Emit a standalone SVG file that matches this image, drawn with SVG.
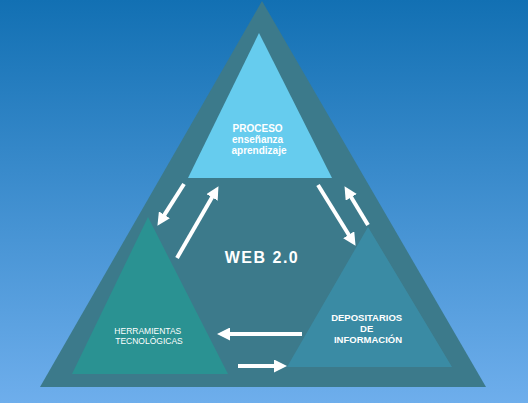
<svg xmlns="http://www.w3.org/2000/svg" width="528" height="403" viewBox="0 0 528 403">
  <defs>
    <linearGradient id="bg" x1="0" y1="0" x2="0" y2="1">
      <stop offset="0" stop-color="#1270b3"/>
      <stop offset="1" stop-color="#6eaeec"/>
    </linearGradient>
    <marker id="ah" markerUnits="userSpaceOnUse" markerWidth="13" markerHeight="13" viewBox="0 0 13 13" refX="3" refY="6.5" orient="auto">
      <path d="M0,0 L13,6.5 L0,13 z" fill="#ffffff"/>
    </marker>
    <style>
      .lbl { font-family: "Liberation Sans", Arial, sans-serif; fill: #ffffff; text-anchor: middle; }
      .arrow { stroke: #ffffff; stroke-width: 4; fill: none; marker-end: url(#ah); }
    </style>
  </defs>
  <rect x="0" y="0" width="528" height="403" fill="url(#bg)"/>
  <g id="web20">
    <polygon points="262,1 486,387 40,387" fill="#3c7a8b"/>
    <text class="lbl" x="262" y="263" font-size="16" font-weight="bold" letter-spacing="1.5">WEB 2.0</text>
  </g>
  <g id="proceso">
    <polygon points="259,33 332,178 188,178" fill="#66ccee"/>
    <text class="lbl" font-size="10" font-weight="bold">
      <tspan x="259" y="132">PROCESO</tspan>
      <tspan x="259" y="143">enseñanza</tspan>
      <tspan x="259" y="154">aprendizaje</tspan>
    </text>
  </g>
  <g id="herramientas">
    <polygon points="148,217 228,374 72,374" fill="#2a9292"/>
    <text class="lbl" font-size="8.5">
      <tspan x="149" y="334">HERRAMIENTAS</tspan>
      <tspan x="149" y="344">TECNOLÓGICAS</tspan>
    </text>
  </g>
  <g id="depositarios">
    <polygon points="368,227 452,367 287,367" fill="#3a8ba4"/>
    <text class="lbl" font-size="9.5" font-weight="bold">
      <tspan x="368" y="321">DEPOSITARIOS</tspan>
      <tspan x="368" y="332">DE</tspan>
      <tspan x="368" y="343">INFORMACIÓN</tspan>
    </text>
  </g>
  <g id="connectors">
    <line class="arrow" x1="184" y1="184" x2="162.8" y2="217.4"/>
    <line class="arrow" x1="177" y1="258" x2="213.5" y2="194.8"/>
    <line class="arrow" x1="318" y1="185" x2="350.3" y2="237.3"/>
    <line class="arrow" x1="368" y1="225" x2="349.7" y2="194.7"/>
    <line class="arrow" x1="302" y1="334" x2="227" y2="334"/>
    <line class="arrow" x1="238" y1="366" x2="277" y2="366"/>
  </g>
</svg>
